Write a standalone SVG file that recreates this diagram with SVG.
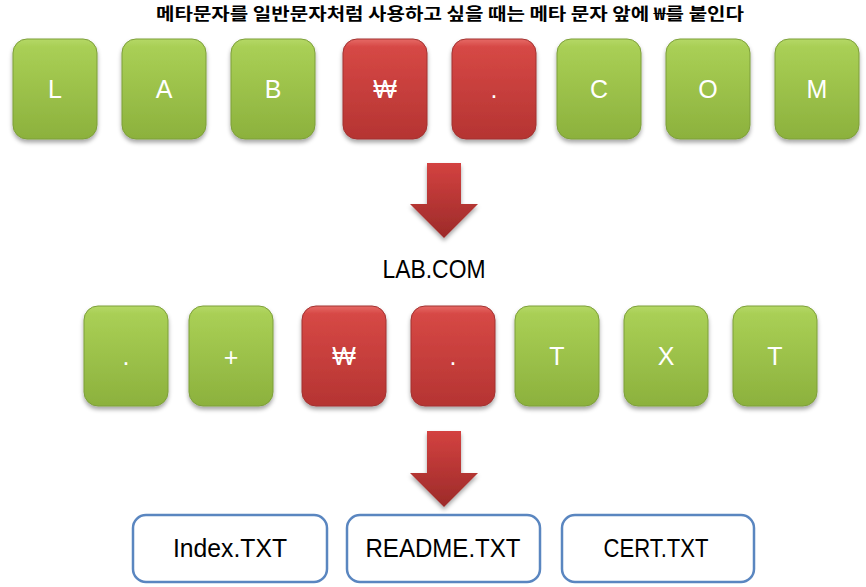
<svg xmlns="http://www.w3.org/2000/svg" width="866" height="587" viewBox="0 0 866 587">
<defs>
<linearGradient id="gGreen" x1="0" y1="0" x2="0" y2="1">
<stop offset="0" stop-color="#b5d867"/>
<stop offset="0.08" stop-color="#a9cf55"/>
<stop offset="1" stop-color="#8cb13d"/>
</linearGradient>
<linearGradient id="gRed" x1="0" y1="0" x2="0" y2="1">
<stop offset="0" stop-color="#e66a66"/>
<stop offset="0.08" stop-color="#d64845"/>
<stop offset="1" stop-color="#b53432"/>
</linearGradient>
<linearGradient id="gArrow" x1="0" y1="0" x2="0" y2="1">
<stop offset="0" stop-color="#d34240"/>
<stop offset="1" stop-color="#9c2a29"/>
</linearGradient>
<filter id="sh" x="-20%" y="-20%" width="140%" height="150%">
<feDropShadow dx="0" dy="3" stdDeviation="2" flood-color="#000" flood-opacity="0.35"/>
</filter>
</defs>
<style>
.g{fill:url(#gGreen);stroke:#7d9f3a;stroke-width:1;filter:url(#sh)}
.r{fill:url(#gRed);stroke:#a23230;stroke-width:1;filter:url(#sh)}
.lbl{font-family:"Liberation Sans",Arial,sans-serif;font-size:25px;fill:#ffffff;text-anchor:middle}
.file{fill:#ffffff;stroke:#5a86c0;stroke-width:2.5}
.ft{font-family:"Liberation Sans",Arial,sans-serif;font-size:25px;fill:#000;text-anchor:middle}
.arr{fill:url(#gArrow);filter:url(#sh)}
</style>
<text x="450" y="20" font-family="'Noto Sans CJK KR','Noto Sans',sans-serif" font-weight="bold" font-size="17" text-anchor="middle" textLength="588" lengthAdjust="spacingAndGlyphs">메타문자를 일반문자처럼 사용하고 싶을 때는 메타 문자 앞에 ₩를 붙인다</text>
<g id="n-L"><rect class="g" x="13" y="39" width="84" height="100" rx="14"/><text class="lbl" x="55" y="98">L</text></g>
<g id="n-A"><rect class="g" x="122" y="39" width="84" height="100" rx="14"/><text class="lbl" x="164" y="98">A</text></g>
<g id="n-B"><rect class="g" x="231" y="39" width="84" height="100" rx="14"/><text class="lbl" x="273" y="98">B</text></g>
<g id="n-won1"><rect class="r" x="343" y="39" width="84" height="100" rx="14"/><text class="lbl" x="385" y="98">₩</text></g>
<g id="n-dot1"><rect class="r" x="452" y="39" width="84" height="100" rx="14"/><text class="lbl" x="494" y="98">.</text></g>
<g id="n-C"><rect class="g" x="557" y="39" width="84" height="100" rx="14"/><text class="lbl" x="599" y="98">C</text></g>
<g id="n-O"><rect class="g" x="666" y="39" width="84" height="100" rx="14"/><text class="lbl" x="708" y="98">O</text></g>
<g id="n-M"><rect class="g" x="775" y="39" width="84" height="100" rx="14"/><text class="lbl" x="817" y="98">M</text></g>
<g id="connectors">
<path class="arr" d="M427,163 H461 V204 H478 L444,238 L410,204 H427 Z"/>
<path class="arr" d="M427,431 H461 V473 H478 L444,507 L410,473 H427 Z"/>
</g>
<text x="434" y="278" font-family="'Liberation Sans',Arial,sans-serif" font-size="26" fill="#000" text-anchor="middle" textLength="103" lengthAdjust="spacingAndGlyphs">LAB.COM</text>
<g id="n2-dot"><rect class="g" x="84" y="306" width="84" height="100" rx="14"/><text class="lbl" x="126" y="365">.</text></g>
<g id="n2-plus"><rect class="g" x="189" y="306" width="84" height="100" rx="14"/><text class="lbl" x="231" y="366">+</text></g>
<g id="n2-won"><rect class="r" x="302" y="306" width="84" height="100" rx="14"/><text class="lbl" x="344" y="365">₩</text></g>
<g id="n2-dot2"><rect class="r" x="411" y="306" width="84" height="100" rx="14"/><text class="lbl" x="453" y="365">.</text></g>
<g id="n2-T1"><rect class="g" x="515" y="306" width="84" height="100" rx="14"/><text class="lbl" x="557" y="365">T</text></g>
<g id="n2-X"><rect class="g" x="624" y="306" width="84" height="100" rx="14"/><text class="lbl" x="666" y="365">X</text></g>
<g id="n2-T2"><rect class="g" x="733" y="306" width="84" height="100" rx="14"/><text class="lbl" x="775" y="365">T</text></g>
<g id="f-index"><rect class="file" x="133" y="515" width="194" height="67" rx="13"/><text class="ft" x="230" y="557" textLength="114" lengthAdjust="spacingAndGlyphs">Index.TXT</text></g>
<g id="f-readme"><rect class="file" x="347" y="515" width="193" height="67" rx="13"/><text class="ft" x="443" y="557" textLength="155" lengthAdjust="spacingAndGlyphs">README.TXT</text></g>
<g id="f-cert"><rect class="file" x="562" y="515" width="192" height="67" rx="13"/><text class="ft" x="656" y="557" textLength="105" lengthAdjust="spacingAndGlyphs">CERT.TXT</text></g>
</svg>
